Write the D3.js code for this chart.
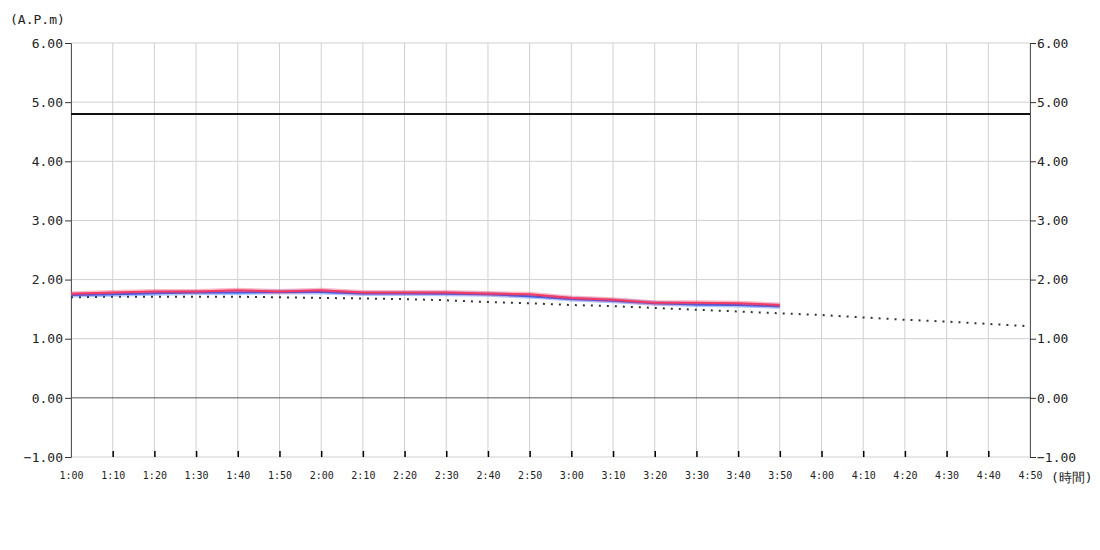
<!DOCTYPE html>
<html><head><meta charset="utf-8">
<script src="https://cdn.jsdelivr.net/npm/d3@7"></script>
<style>body{margin:0;background:#fff}svg{display:block}text{font-family:"DejaVu Sans Mono",monospace;fill:#222}</style>
</head><body><svg id="c" width="1100" height="550"></svg>
<script>
const timeLabels = ["1:00","1:10","1:20","1:30","1:40","1:50","2:00","2:10","2:20","2:30","2:40","2:50","3:00","3:10","3:20","3:30","3:40","3:50","4:00","4:10","4:20","4:30","4:40","4:50"];
const yTicks = [-1,0,1,2,3,4,5,6];
const redSeries = [1.76,1.78,1.80,1.80,1.82,1.80,1.82,1.78,1.78,1.78,1.765,1.75,1.69,1.66,1.61,1.61,1.60,1.57];
const blueSeries = [1.74,1.75,1.77,1.78,1.78,1.79,1.79,1.765,1.765,1.76,1.75,1.72,1.67,1.64,1.60,1.58,1.57,1.55];
const dottedSeries = [1.70,1.71,1.71,1.71,1.71,1.70,1.69,1.68,1.67,1.65,1.62,1.60,1.57,1.55,1.52,1.49,1.46,1.43,1.40,1.36,1.32,1.29,1.25,1.21];
const limitValue = 4.80;

const svg = d3.select("#c");
const L=71,R=1030,T=43,B=457;
const x = d3.scalePoint().domain(timeLabels).range([L,R]);
const y = d3.scaleLinear().domain([-1,6]).range([B,T]);

// grid
svg.append("g").selectAll("line").data(timeLabels).join("line")
 .attr("x1",d=>x(d)).attr("x2",d=>x(d)).attr("y1",T).attr("y2",B)
 .attr("stroke","#d0d0d0").attr("stroke-width",1);
svg.append("g").selectAll("line").data(yTicks).join("line")
 .attr("x1",L).attr("x2",R).attr("y1",d=>y(d)).attr("y2",d=>y(d))
 .attr("stroke",d=>d===0?"#555":"#d0d0d0").attr("stroke-width",1);

// axes
const la = svg.append("g").attr("transform",`translate(${L},0)`)
 .call(d3.axisLeft(y).tickValues(yTicks).tickFormat(d3.format(".2f")).tickSize(6).tickPadding(2));
const ra = svg.append("g").attr("transform",`translate(${R},0)`)
 .call(d3.axisRight(y).tickValues(yTicks).tickFormat(d3.format(".2f")).tickSize(6).tickPadding(1));
[la,ra].forEach(a=>{a.select(".domain").attr("stroke","#555");a.selectAll(".tick line").attr("stroke","#333");
 a.selectAll("text").style("font-size","13px").attr("fill","#222");});
const ba = svg.append("g").attr("transform",`translate(0,${B})`)
 .call(d3.axisBottom(x).tickSizeInner(-6).tickSizeOuter(0).tickPadding(15));
ba.select(".domain").remove();
ba.selectAll(".tick line").attr("stroke","#000").attr("stroke-width",1.5);
ba.selectAll("text").style("font-size","10px").attr("fill","#222");
ba.selectAll(".tick").filter((d,i)=>i===0||i===timeLabels.length-1).select("line").remove();

// limit line
svg.append("line").attr("x1",L).attr("x2",R).attr("y1",y(limitValue)).attr("y2",y(limitValue))
 .attr("stroke","#111").attr("stroke-width",2);

const line = d3.line().x((d,i)=>x(timeLabels[i])).y(d=>y(d));
svg.append("path").datum(dottedSeries).attr("d",line).attr("fill","none")
 .attr("stroke","#333").attr("stroke-width",2).attr("stroke-dasharray","2,6");
function drawSeries(data,color){
 svg.append("path").datum(data).attr("d",line).attr("fill","none").attr("stroke",color).attr("stroke-opacity",0.35).attr("stroke-width",5);
 svg.append("path").datum(data).attr("d",line).attr("fill","none").attr("stroke",color).attr("stroke-width",2);
}
drawSeries(blueSeries,"#1a5cff");
drawSeries(redSeries,"#f43b64");

svg.append("text").attr("x",10).attr("y",24).style("font-size","13px").text("(A.P.m)");
svg.append("text").attr("x",1051).attr("y",482).style("font-size","13px").text("(時間)");
</script></body></html>
